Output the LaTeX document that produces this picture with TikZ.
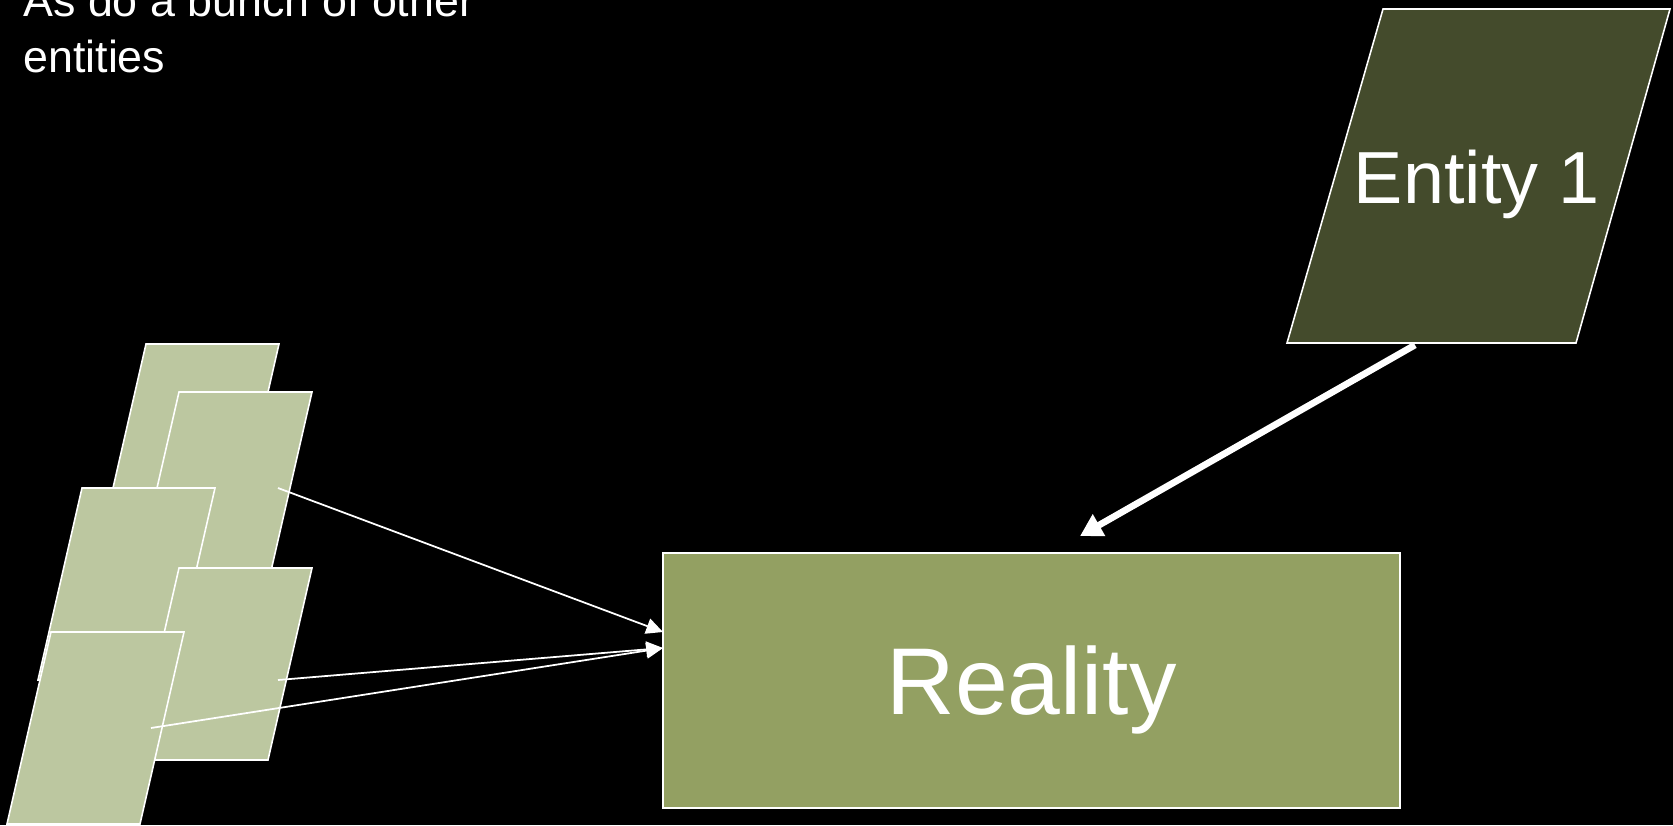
\documentclass[tikz,border=0pt]{standalone}
\usepackage{fontspec}
\setmainfont{Liberation Sans}
\usetikzlibrary{arrows.meta}
\definecolor{slabgreen}{RGB}{188,199,160}
\definecolor{entitygreen}{RGB}{68,75,44}
\definecolor{realgreen}{RGB}{147,160,98}

\begin{document}
\begin{tikzpicture}[
  x=0.02cm, y=-0.02cm,
  slab/.style={fill=slabgreen, draw=white, line width=0.9pt},
  entity/.style={fill=entitygreen, draw=white, line width=0.9pt},
  box/.style={rectangle, fill=realgreen, draw=white, line width=0.9pt, minimum width=14.74cm, minimum height=5.1cm, inner sep=0pt, text depth=0pt},
  feed/.style={-{Triangle[length=9.5pt, width=9pt]}, white, line width=1pt},
  push/.style={-{Triangle[length=12.5pt, width=13.6pt]}, white, line width=3.8pt}]
\useasboundingbox (0,0) rectangle (1673,825);
\fill[black] (0,0) rectangle (1673,825);
\node[anchor=south west, inner sep=0pt, align=left, text=white, font=\fontsize{25.5}{31.7}\selectfont] (note) at (23,73) {As do a bunch of other\\entities};
\foreach \x/\y in {146/344, 179/392, 82/488, 179/568, 51/632}
  \filldraw[slab] (\x,\y) -- ++(133,0) -- ++(-44,192) -- ++(-133,0) -- cycle;
\filldraw[entity] (1383,9) -- (1670,9) -- (1576,343) -- (1287,343) -- cycle;
\node[text=white, text depth=0pt, inner sep=0pt, font=\fontsize{42}{50}\selectfont] (ent) at (1477,177) {Entity 1};
\node[box, text=white, font=\fontsize{54}{64}\selectfont] (real) at (1031.5,680.5) {Reality};
\coordinate (s2) at (278,488);
\coordinate (s4) at (278,680);
\coordinate (s5) at (151,728);
\coordinate (in1) at (663,632);
\coordinate (in2) at (663,648);
\coordinate (eout) at (1415,345);
\coordinate (rin) at (1080,536);
\foreach \s/\t in {s2/in1, s4/in2, s5/in2} \draw[feed] (\s) -- (\t);
\draw[push] (eout) -- (rin);
\end{tikzpicture}
\end{document}
